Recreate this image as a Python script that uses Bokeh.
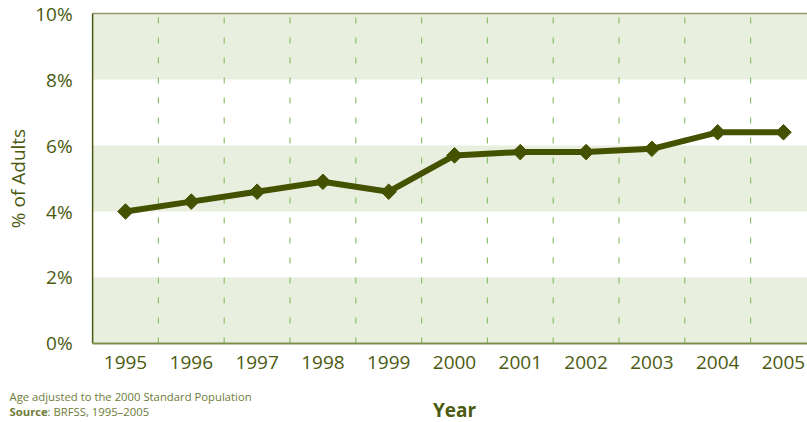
import math
from bokeh.plotting import figure
from bokeh.models import FixedTicker, PrintfTickFormatter, Label, Range1d
from bokeh.embed import file_html
from bokeh.resources import INLINE

years = [1995, 1996, 1997, 1998, 1999, 2000, 2001, 2002, 2003, 2004, 2005]
pct_adults = [4.0, 4.3, 4.6, 4.9, 4.6, 5.7, 5.8, 5.8, 5.9, 6.4, 6.4]
y_ticks = [0, 2, 4, 6, 8, 10]

FONT = "Open Sans"
DARK = "#4B5A10"
NOTE = "#6E7B3A"

X0, X1 = 1993.1, 2005.365   # full canvas span
Y0, Y1 = -2.394, 10.394
XL = 1994.5                  # left edge of plotting area

p = figure(width=807, height=422, output_backend="svg", toolbar_location=None,
           x_range=Range1d(X0, X1), y_range=Range1d(Y0, Y1),
           min_border=0)
p.outline_line_color = None
p.background_fill_color = "white"

# shaded bands 0-2, 4-6, 8-10
p.quad(left=XL, right=X1 + 1, bottom=y_ticks[0::2], top=y_ticks[1::2],
       fill_color="#E8EFDF", line_color=None)
p.ygrid.grid_line_color = None
p.xgrid.grid_line_color = None

# dashed category separators
seps = [y + 0.5 for y in years[:-1]]
p.segment(x0=seps, x1=seps, y0=0, y1=y_ticks[-1], line_color="#8DBF6A",
          line_dash="6 14", line_width=1.2)

# frame lines
p.segment(x0=XL, x1=X1 + 1, y0=y_ticks[-1], y1=y_ticks[-1], line_color="#8E9A6A", line_width=1.5)
p.segment(x0=XL, x1=XL, y0=0, y1=y_ticks[-1], line_color=DARK, line_width=1.5)
p.segment(x0=XL, x1=X1 + 1, y0=0, y1=0, line_color="#7E8F4A", line_width=2)

p.line(years, pct_adults, line_color="#445200", line_width=6)
p.scatter(years, pct_adults, marker="square", angle=math.pi / 4, size=11,
          fill_color="#445200", line_color="#445200")

# axes placed inside the canvas
p.xaxis.fixed_location = 0
p.yaxis.fixed_location = XL
p.xaxis.ticker = FixedTicker(ticks=years)
p.yaxis.ticker = FixedTicker(ticks=y_ticks)
p.yaxis.formatter = PrintfTickFormatter(format="%d%%")
for ax in (p.xaxis[0], p.yaxis[0]):
    ax.axis_line_color = None
    ax.major_tick_line_color = None
    ax.minor_tick_line_color = None
    ax.major_label_text_font = FONT
    ax.major_label_text_font_size = "19px"
    ax.major_label_text_color = DARK
p.xaxis.major_label_standoff = 7
p.yaxis.major_label_standoff = 14

p.add_layout(Label(x=1993.37, y=5, text="% of Adults", angle=math.pi / 2,
                   text_align="center", text_baseline="middle",
                   text_font=FONT, text_font_size="19px", text_color=DARK))
p.add_layout(Label(x=2000, y=-2.03, text="Year",
                   text_align="center", text_baseline="middle",
                   text_font=FONT, text_font_size="19px", text_font_style="bold",
                   text_color=DARK))
p.add_layout(Label(x=1993.237, y=-1.61, text="Age adjusted to the 2000 Standard Population",
                   text_baseline="middle",
                   text_font=FONT, text_font_size="11.3px", text_color=NOTE))
p.add_layout(Label(x=1993.237, y=-2.06, text="Source",
                   text_baseline="middle", text_font_style="bold",
                   text_font=FONT, text_font_size="11.3px", text_color=NOTE))
p.add_layout(Label(x=1993.237, y=-2.06, x_offset=38, text=": BRFSS, 1995\u20132005",
                   text_baseline="middle",
                   text_font=FONT, text_font_size="11.3px", text_color=NOTE))

open("out.html", "w").write(file_html(p, INLINE))
